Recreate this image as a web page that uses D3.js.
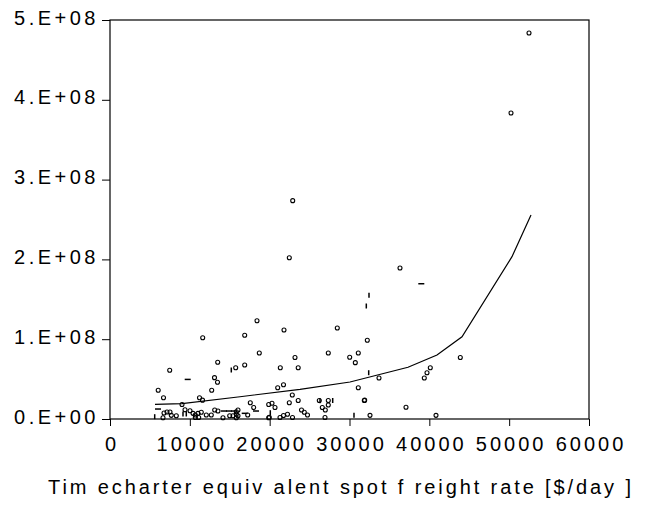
<!DOCTYPE html>
<html>
<head>
<meta charset="utf-8">
<script src="https://cdn.jsdelivr.net/npm/d3@7"></script>
<style>
    body { margin: 0; background: #fff; }
    text { font-family: "Liberation Sans", Arial, sans-serif; fill: #000; }
</style>
</head>
<body>
<div id="chart"></div>
<script>
// Observed points: spot rate ($/day) vs value
const circlePoints = [
    [52485, 4.837e8], [50230, 3.835e8], [22886, 2.736e8], [22460, 2.021e8],
    [36325, 1.892e8], [18413, 1.231e8], [21795, 1.115e8], [28472, 1.140e8],
    [16873, 1.049e8], [11612, 1.019e8], [32230, 0.986e8], [18701, 0.827e8],
    [13490, 0.711e8], [23173, 0.771e8], [27344, 0.827e8], [30025, 0.773e8],
    [31102, 0.827e8], [30727, 0.706e8], [43880, 0.771e8], [7478, 0.610e8],
    [15745, 0.643e8], [16873, 0.677e8], [21332, 0.643e8], [23574, 0.643e8],
    [40121, 0.643e8], [39708, 0.580e8], [39370, 0.514e8], [33695, 0.514e8],
    [13090, 0.518e8], [13465, 0.460e8], [6038, 0.361e8], [12739, 0.361e8],
    [21006, 0.392e8], [21733, 0.429e8], [31102, 0.392e8], [6702, 0.267e8],
    [11211, 0.267e8], [22835, 0.301e8], [11587, 0.236e8], [23574, 0.232e8],
    [26217, 0.232e8], [27344, 0.232e8], [31854, 0.232e8], [31900, 0.236e8],
    [9019, 0.182e8], [22460, 0.203e8], [17574, 0.203e8], [20292, 0.198e8],
    [19879, 0.182e8], [27344, 0.175e8], [9395, 0.115e8], [18000, 0.144e8],
    [20668, 0.144e8], [26593, 0.144e8], [26969, 0.113e8], [37077, 0.147e8],
    [23987, 0.113e8], [24338, 0.084e8], [24738, 0.050e8], [32568, 0.046e8],
    [40835, 0.046e8], [26931, 0.019e8], [22860, 0.019e8], [21295, 0.019e8],
    [21733, 0.044e8], [22234, 0.060e8], [17249, 0.050e8],
    [6765, 0.075e8], [7140, 0.088e8], [7516, 0.088e8], [6639, 0.016e8],
    [7678, 0.046e8], [8305, 0.041e8], [10021, 0.104e8], [10397, 0.071e8],
    [11023, 0.071e8], [11436, 0.084e8], [10685, 0.019e8], [11111, 0.019e8],
    [10685, 0.050e8], [12062, 0.050e8], [12688, 0.050e8], [13114, 0.113e8],
    [13528, 0.100e8], [14154, 0.016e8], [14994, 0.041e8], [15407, 0.041e8],
    [15820, 0.091e8], [16033, 0.113e8], [15820, 0.059e8], [16033, 0.041e8],
    [15820, 0.016e8], [19879, 0.016e8], [19950, 0.020e8]
];

// Points that print as short dashes ('-' flat, '|' upright)
const dashPoints = [
    [9733, 0.496e8, '-'], [6013, 0.125e8, '-'], [38994, 1.695e8, '-'],
    [32443, 1.550e8, '|'], [32105, 1.416e8, '|'], [15194, 0.614e8, '|'],
    [32405, 0.580e8, '|'], [27895, 0.232e8, '|'], [26305, 0.229e8, '|'],
    [30563, 0.046e8, '|'], [20079, 0.079e8, '|'], [18288, 0.100e8, '-'],
    [9144, 0.063e8, '|'], [9557, 0.063e8, '|'], [5599, 0.029e8, '|'],
    [14280, 0.100e8, '-'], [14906, 0.100e8, '-'], [15532, 0.100e8, '-'],
    [16873, 0.071e8, '-']
];

// Fitted curve
const fitLine = [
    [5637, 0.184e8], [9019, 0.192e8], [16284, 0.279e8], [23800, 0.372e8],
    [30063, 0.464e8], [37328, 0.648e8], [40960, 0.802e8], [44092, 1.031e8],
    [50355, 2.034e8], [52735, 2.556e8]
];

const xTicks = [0, 10000, 20000, 30000, 40000, 50000, 60000];
const yTicks = [0, 1e8, 2e8, 3e8, 4e8, 5e8];
const yTickLabels = ['0.E+00', '1.E+08', '2.E+08', '3.E+08', '4.E+08', '5.E+08'];
const xTitle = 'Tim echarter equiv alent spot f reight rate [$/day ]';

const width = 647, height = 523;
const plot = { left: 110, right: 589, top: 20, bottom: 419 };

const svg = d3.select('#chart').append('svg')
    .attr('width', width)
    .attr('height', height);

const x = d3.scaleLinear().domain([0, 60000]).range([plot.left, plot.right]);
const y = d3.scaleLinear().domain([0, 5e8]).range([plot.bottom, plot.top]);

// Frame
svg.append('rect')
    .attr('x', plot.left)
    .attr('y', plot.top)
    .attr('width', plot.right - plot.left)
    .attr('height', plot.bottom - plot.top)
    .attr('fill', 'none')
    .attr('stroke', '#000')
    .attr('stroke-width', 1.2);

// Axes
const xAxis = svg.append('g')
    .attr('transform', `translate(0,${plot.bottom})`)
    .call(d3.axisBottom(x).tickValues(xTicks).tickSize(7).tickSizeOuter(0).tickFormat(d3.format('d')));

xAxis.select('.domain').remove();
xAxis.selectAll('text')
    .attr('x', 1.5)
    .attr('y', 18)
    .attr('dy', '0.71em')
    .style('font-size', '20px')
    .style('letter-spacing', '3px')
    .attr('font-family', null);

const yAxis = svg.append('g')
    .attr('transform', `translate(${plot.left},0)`)
    .call(d3.axisLeft(y).tickValues(yTicks).tickSize(8).tickSizeOuter(0)
        .tickFormat((d, i) => yTickLabels[i]));

yAxis.select('.domain').remove();
yAxis.selectAll('text')
    .attr('x', -11)
    .attr('dy', '0.2em')
    .style('font-size', '20px')
    .style('letter-spacing', '3.5px')
    .attr('font-family', null);

svg.selectAll('.tick line').attr('stroke', '#000');

// Fitted line
svg.append('path')
    .datum(fitLine)
    .attr('fill', 'none')
    .attr('stroke', '#000')
    .attr('stroke-width', 1.2)
    .attr('d', d3.line().x(d => x(d[0])).y(d => y(d[1])));

// Scatter
svg.append('g').selectAll('circle')
    .data(circlePoints)
    .join('circle')
    .attr('cx', d => x(d[0]))
    .attr('cy', d => y(d[1]))
    .attr('r', 2)
    .attr('fill', 'none')
    .attr('stroke', '#000')
    .attr('stroke-width', 1.1);

svg.append('g').selectAll('line')
    .data(dashPoints)
    .join('line')
    .attr('x1', d => x(d[0]) - (d[2] === '-' ? 3 : 0))
    .attr('x2', d => x(d[0]) + (d[2] === '-' ? 3 : 0))
    .attr('y1', d => y(d[1]) - (d[2] === '|' ? 2.5 : 0))
    .attr('y2', d => y(d[1]) + (d[2] === '|' ? 2.5 : 0))
    .attr('stroke', '#000')
    .attr('stroke-width', 1.5);

// Axis title
svg.append('text')
    .attr('x', 341)
    .attr('y', 494)
    .attr('text-anchor', 'middle')
    .style('font-size', '20px')
    .style('letter-spacing', '2.9px')
    .text(xTitle);
</script>
</body>
</html>
